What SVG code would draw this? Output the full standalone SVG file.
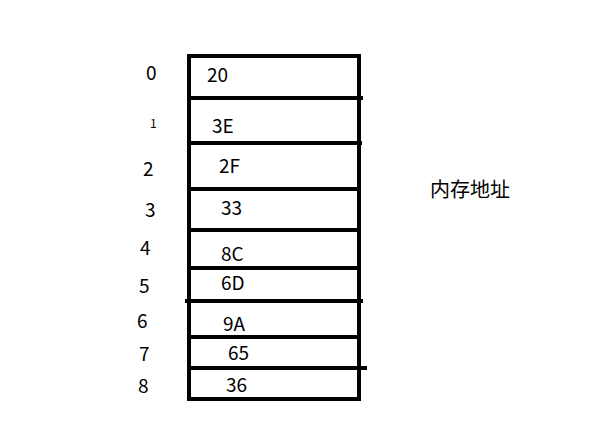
<svg xmlns="http://www.w3.org/2000/svg" width="596" height="448" viewBox="0 0 596 448">
<style>
.ln{stroke:#000;stroke-width:4;fill:none}
text{font-family:"Noto Sans CJK SC","Noto Sans",sans-serif;font-size:19px;fill:#000}
.s{font-size:12px}
.lb{font-size:20px}
</style>
<rect width="596" height="448" fill="#fff"/>
<g id="memory">
<rect class="ln" x="189" y="56" width="170" height="343"/>
<line class="ln" x1="189" y1="98" x2="363" y2="98"/>
<line class="ln" x1="189" y1="143" x2="362" y2="143"/>
<line class="ln" x1="189" y1="189" x2="359" y2="189"/>
<line class="ln" x1="189" y1="230" x2="359" y2="230"/>
<line class="ln" x1="189" y1="268" x2="359" y2="268"/>
<line class="ln" x1="185" y1="301" x2="363" y2="301"/>
<line class="ln" x1="189" y1="337" x2="359" y2="337"/>
<line class="ln" x1="189" y1="368" x2="367" y2="368"/>
</g>
<g id="values">
<text x="207" y="82">20</text>
<text x="212" y="133">3E</text>
<text x="219" y="173">2F</text>
<text x="221" y="215">33</text>
<text x="221" y="261">8C</text>
<text x="221" y="290">6D</text>
<text x="223" y="331">9A</text>
<text x="228" y="360">65</text>
<text x="226" y="392">36</text>
</g>
<g id="indices">
<text x="146" y="80">0</text>
<text class="s" x="150" y="128">1</text>
<text x="143" y="176">2</text>
<text x="145" y="217">3</text>
<text x="140" y="255">4</text>
<text x="139" y="293">5</text>
<text x="137" y="328">6</text>
<text x="139" y="361">7</text>
<text x="138" y="393">8</text>
</g>
<g id="label">
<text class="lb" x="430" y="197">内存地址</text>
</g>
</svg>
